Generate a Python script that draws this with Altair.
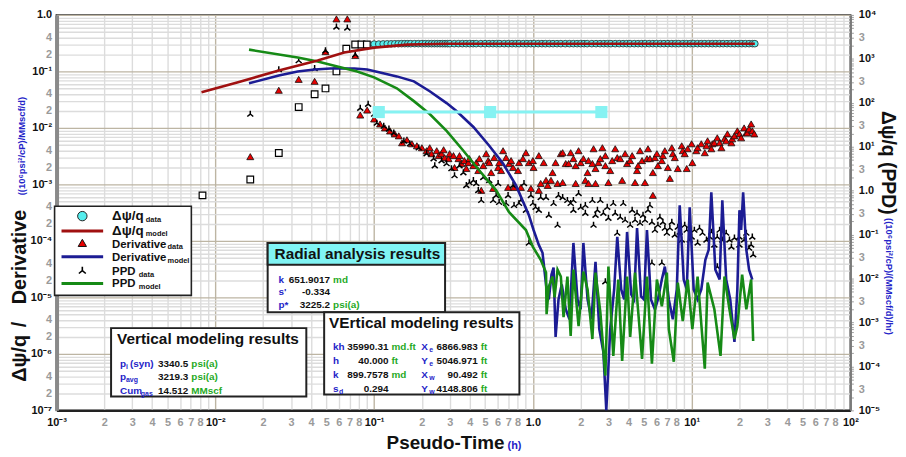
import altair as alt
import pandas as pd

FONT = "Liberation Sans"
BLUE_TXT = "#2424c8"
GREEN_TXT = "#1faa1f"

# ---------------- data: (pseudo-time h, value in left-axis units) ----------------
psi_early = [(0.0083, 0.00064), (0.0166, 0.00122), (0.0251, 0.0036), (0.0335, 0.0234),
             (0.0422, 0.0395), (0.0494, 0.050), (0.0579, 0.100), (0.0668, 0.253),
             (0.0760, 0.300), (0.0832, 0.300), (0.0900, 0.300)]

psi_data = [(0.100, 0.305), (0.107, 0.305), (0.114, 0.307), (0.121, 0.308), (0.128, 0.308), (0.135, 0.309),
            (0.142, 0.309), (0.149, 0.31), (0.156, 0.31), (0.163, 0.31), (0.170, 0.31), (0.180, 0.31),
            (0.190, 0.31), (0.200, 0.31), (0.210, 0.31), (0.220, 0.31), (0.230, 0.31), (0.240, 0.31),
            (0.25, 0.31), (0.26, 0.31), (0.27, 0.31), (0.28, 0.31), (0.29, 0.31), (0.30, 0.31),
            (0.32, 0.31), (0.34, 0.31), (0.36, 0.31), (0.38, 0.31), (0.40, 0.31), (0.42, 0.31),
            (0.44, 0.31), (0.47, 0.31), (0.50, 0.31), (0.53, 0.31), (0.56, 0.31), (0.59, 0.31),
            (0.62, 0.31), (0.66, 0.31), (0.70, 0.31), (0.74, 0.31), (0.78, 0.31), (0.82, 0.31),
            (0.87, 0.31), (0.92, 0.31), (0.97, 0.31), (1.02, 0.31), (1.08, 0.31), (1.14, 0.31),
            (1.20, 0.31), (1.27, 0.31), (1.34, 0.31), (1.42, 0.31), (1.50, 0.31), (1.60, 0.31),
            (1.70, 0.31), (1.80, 0.31), (1.90, 0.31), (2.00, 0.31), (2.10, 0.31), (2.20, 0.31),
            (2.35, 0.31), (2.50, 0.31), (2.65, 0.31), (2.80, 0.31), (2.95, 0.31), (3.10, 0.31),
            (3.30, 0.31), (3.50, 0.31), (3.70, 0.31), (3.90, 0.31), (4.10, 0.31), (4.35, 0.31),
            (4.60, 0.31), (4.85, 0.31), (5.10, 0.31), (5.40, 0.31), (5.70, 0.31), (6.00, 0.31),
            (6.35, 0.31), (6.70, 0.31), (7.10, 0.31), (7.50, 0.31), (7.90, 0.31), (8.30, 0.31),
            (8.80, 0.31), (9.30, 0.31), (9.80, 0.31), (10.3, 0.31), (10.9, 0.31), (11.5, 0.31),
            (12.1, 0.31), (12.8, 0.31), (13.5, 0.31), (14.2, 0.31), (15.0, 0.31), (15.8, 0.31),
            (16.7, 0.31), (17.6, 0.31), (18.6, 0.31), (19.6, 0.31), (20.7, 0.31), (21.8, 0.31),
            (23.0, 0.31), (24.2, 0.31), (25.0, 0.31)]

psi_model = [(0.00818, 0.0428), (0.0139, 0.0641), (0.0251, 0.104), (0.0441, 0.156), (0.0649, 0.216),
             (0.100, 0.264), (0.161, 0.298), (0.286, 0.310), (25.0, 0.310)]

deriv_data = [
    (0.0166, 0.0031), (0.0251, 0.0464), (0.0335, 0.0724), (0.0422, 0.0668), (0.0494, 0.224),
    (0.0579, 0.851), (0.0678, 0.851), (0.0761, 0.191), (0.0818, 0.0169), (0.0904, 0.0207),
    (0.100, 0.0144), (0.109, 0.01175), (0.117, 0.0100), (0.126, 0.00886), (0.135, 0.00785),
    (0.143, 0.00724), (0.150, 0.00546), (0.161, 0.00616), (0.173, 0.00524), (0.186, 0.00483),
    (0.200, 0.00446), (0.214, 0.00395), (0.224, 0.00446), (0.230, 0.0035), (0.248, 0.00395),
    (0.255, 0.00323), (0.266, 0.0035), (0.274, 0.00411), (0.278, 0.00298), (0.294, 0.00286),
    (0.299, 0.0035), (0.316, 0.00323), (0.321, 0.00199), (0.340, 0.00286), (0.345, 0.00323),
    (0.355, 0.00234), (0.370, 0.00264), (0.381, 0.00191), (0.392, 0.00243), (0.398, 0.00286),
    (0.422, 0.00215), (0.440, 0.00243), (0.453, 0.00176), (0.460, 0.00286), (0.473, 0.000785),
    (0.487, 0.00215), (0.508, 0.0035), (0.523, 0.00264), (0.531, 0.00243), (0.546, 0.00162),
    (0.562, 0.00085), (0.570, 0.00298), (0.604, 0.00199), (0.613, 0.00243), (0.631, 0.00176),
    (0.649, 0.00395), (0.678, 0.00298), (0.698, 0.000886), (0.708, 0.00234), (0.729, 0.00264),
    (0.750, 0.00199), (0.761, 0.000886), (0.806, 0.00176), (0.818, 0.00243), (0.841, 0.000886),
    (0.866, 0.00286), (0.904, 0.00364), (0.944, 0.00243), (0.972, 0.00085), (1.00, 0.00264),
    (1.01, 0.00199), (1.09, 0.00323), (1.09, 0.000785), (1.12, 0.00104), (1.17, 0.00243),
    (1.21, 0.00118), (1.24, 0.00096), (1.30, 0.00118), (1.33, 0.00162), (1.39, 0.00243),
    (1.43, 0.00104), (1.50, 0.0035), (1.54, 0.00108), (1.54, 0.00364), (1.61, 0.00234),
    (1.68, 0.00234), (1.73, 0.00364), (1.80, 0.00286), (1.86, 0.00104), (1.86, 0.00215),
    (1.94, 0.00395), (2.00, 0.00243), (2.08, 0.00286), (2.14, 0.00118), (2.21, 0.00162),
    (2.24, 0.00264), (2.24, 0.00104), (2.37, 0.00234), (2.41, 0.00428), (2.48, 0.00191),
    (2.48, 0.00104), (2.59, 0.00243), (2.66, 0.00286), (2.74, 0.00446), (2.86, 0.00323),
    (2.86, 0.00215), (2.99, 0.00108), (3.07, 0.00176), (3.16, 0.00264), (3.30, 0.00428),
    (3.40, 0.00298), (3.55, 0.00286), (3.65, 0.00118), (3.81, 0.0035), (3.92, 0.00234),
    (4.10, 0.00264), (4.22, 0.00323), (4.40, 0.00108), (4.53, 0.00176), (4.60, 0.00215),
    (4.73, 0.00395), (4.87, 0.00264), (5.08, 0.00108), (5.23, 0.00286), (5.31, 0.00428),
    (5.46, 0.00286), (5.70, 0.00162), (5.70, 0.000641), (5.87, 0.00298), (6.04, 0.0035),
    (6.13, 0.00215), (6.49, 0.00264), (6.59, 0.00323), (6.78, 0.00395), (7.08, 0.00199),
    (7.29, 0.00128), (7.50, 0.00446), (7.61, 0.0035), (7.83, 0.00298), (8.18, 0.00191),
    (8.66, 0.00483), (8.79, 0.00395), (9.04, 0.0035), (9.31, 0.00191), (9.44, 0.00428),
    (10.0, 0.00524), (10.1, 0.00243), (10.7, 0.00395), (10.9, 0.00446), (11.5, 0.00524),
    (12.1, 0.00364), (12.4, 0.00483), (12.6, 0.00591), (13.3, 0.00428), (13.5, 0.00524),
    (13.9, 0.00546), (14.5, 0.00668), (15.0, 0.00546), (15.4, 0.00446), (16.1, 0.00641),
    (16.5, 0.00591), (16.8, 0.00785), (17.8, 0.00546), (18.0, 0.00641), (18.6, 0.00724),
    (19.4, 0.00886), (20.0, 0.00785), (20.5, 0.00668), (21.4, 0.0100), (22.1, 0.00817),
    (22.4, 0.00817), (23.0, 0.0096), (23.7, 0.01175), (24.1, 0.00886), (24.8, 0.00785)]

ppd_data = [
    (0.0166, 0.0176), (0.0251, 0.108), (0.0335, 0.156), (0.0422, 0.113), (0.0494, 0.234),
    (0.0579, 0.616), (0.0678, 0.591), (0.0761, 0.199), (0.0818, 0.0224), (0.0917, 0.0264),
    (0.100, 0.0176), (0.104, 0.0122), (0.115, 0.0108), (0.124, 0.0096), (0.133, 0.00817),
    (0.154, 0.00591), (0.168, 0.00524), (0.191, 0.00446), (0.214, 0.0035), (0.237, 0.00286),
    (0.241, 0.00215), (0.266, 0.00264), (0.286, 0.00234), (0.307, 0.00191), (0.321, 0.00144),
    (0.345, 0.00215), (0.365, 0.00162), (0.381, 0.00096), (0.398, 0.00108), (0.422, 0.00118),
    (0.440, 0.00104), (0.453, 0.000785), (0.473, 0.000524), (0.487, 0.00133), (0.531, 0.00118),
    (0.562, 0.000524), (0.587, 0.000641), (0.604, 0.00104), (0.613, 0.000483), (0.678, 0.000464),
    (0.698, 0.000641), (0.750, 0.00096), (0.761, 0.000428), (0.818, 0.000464), (0.841, 0.000524),
    (0.879, 0.00104), (0.904, 0.00035), (0.944, 0.000092), (0.972, 0.000641),
    (1.00, 0.000464), (1.04, 0.000395), (1.09, 0.00035), (1.12, 0.000591), (1.21, 0.000591),
    (1.26, 0.000286), (1.35, 0.000464), (1.43, 0.000191), (1.45, 0.000641), (1.54, 0.000591),
    (1.65, 0.000524), (1.73, 0.000464), (1.80, 0.00035), (1.80, 0.000524), (1.94, 0.000695),
    (2.00, 0.000395), (2.14, 0.00031), (2.14, 0.000428), (2.37, 0.000524), (2.41, 0.000191),
    (2.48, 0.000286), (2.55, 0.00035), (2.66, 0.000524), (2.78, 0.00031), (2.86, 0.000019),
    (2.94, 0.000395), (2.99, 0.000253), (3.21, 0.000464), (3.30, 0.00031), (3.40, 0.000138),
    (3.55, 0.000264), (3.71, 0.000464), (3.81, 0.000234), (4.10, 0.000191), (4.22, 0.00035),
    (4.40, 0.000234), (4.53, 0.00031), (4.73, 0.000207), (4.94, 0.000286), (5.08, 0.000234),
    (5.31, 0.00035), (5.46, 0.000428), (5.62, 0.000215), (5.62, 0.000041), (5.87, 0.000156),
    (6.13, 0.000191), (6.31, 0.000264), (6.49, 0.000041), (6.59, 0.000215), (6.78, 0.000169),
    (6.98, 0.000138), (7.29, 0.000169), (7.50, 0.000215), (7.83, 0.000128), (8.18, 0.000176),
    (8.41, 0.000144), (8.66, 0.000104), (9.04, 0.000191), (9.31, 0.000156), (9.72, 0.000104),
    (10.0, 0.000118), (10.4, 0.000156), (10.9, 0.000092), (11.2, 0.000169), (11.7, 0.000138),
    (12.4, 0.000104), (13.0, 0.000118), (13.3, 0.000144), (13.9, 0.000085), (14.5, 0.000118),
    (14.5, 0.000035), (15.0, 0.000156), (15.6, 0.000104), (16.5, 0.000138), (17.3, 0.000104),
    (17.8, 0.0000785), (18.6, 0.000113), (20.0, 0.000085), (20.0, 0.000118), (21.4, 0.000104),
    (22.1, 0.000138), (23.0, 0.000075), (23.7, 0.000085), (24.1, 0.000118), (24.4, 0.000057)]

deriv_model = [
    (0.0163, 0.0616), (0.0251, 0.085), (0.0330, 0.100), (0.0422, 0.108), (0.0531, 0.113),
    (0.0750, 0.113), (0.0904, 0.108), (0.109, 0.096), (0.139, 0.0817), (0.178, 0.0668),
    (0.224, 0.0446), (0.286, 0.0275), (0.330, 0.0199), (0.422, 0.0104), (0.531, 0.00483),
    (0.649, 0.00234), (0.783, 0.00096), (0.944, 0.000286), (1.01, 0.000156), (1.09, 0.000085),
    (1.15, 0.0000616),
    (1.22, 1.38e-5), (1.26, 9.2e-6), (1.31, 2.53e-5), (1.35, 3.36e-5), (1.39, 1.99e-6),
    (1.45, 9.2e-6), (1.52, 1.69e-5), (1.61, 6.16e-6), (1.70, 4.11e-6), (1.80, 9.2e-5),
    (1.91, 9.2e-6), (2.00, 6.16e-6), (2.08, 9.2e-5), (2.21, 9.2e-6), (2.34, 4.11e-6),
    (2.48, 4.28e-5), (2.62, 2.75e-6), (2.78, 1.08e-6), (2.90, 1.0e-7), (3.07, 2.75e-6),
    (3.25, 1.38e-5), (3.40, 1.18e-4), (3.60, 1.38e-5), (3.76, 9.2e-6), (3.92, 1.44e-4),
    (4.16, 1.13e-5), (4.34, 9.2e-6), (4.53, 1.69e-4), (4.80, 1.04e-5), (5.01, 9.2e-6),
    (5.23, 1.56e-4), (5.54, 9.2e-6), (5.87, 6.16e-6), (6.13, 9.2e-6), (6.49, 2.07e-5),
    (6.78, 3.5e-5), (7.18, 9.2e-6), (7.61, 4.11e-6), (8.06, 1.38e-5), (8.41, 4.28e-4),
    (8.91, 2.07e-5), (9.31, 1.38e-5), (9.72, 3.95e-4), (10.3, 1.38e-5), (10.9, 9.2e-6),
    (11.5, 1.38e-5), (12.2, 4.64e-5), (12.8, 6.95e-5), (13.3, 7.24e-4), (14.1, 3.1e-5),
    (15.0, 2.07e-5), (15.6, 5.24e-4), (16.5, 2.07e-5), (17.5, 9.2e-6), (18.6, 1.63e-6),
    (19.4, 1.38e-5), (20.0, 3.5e-4), (20.5, 1.56e-4), (21.1, 7.24e-4), (22.1, 6.95e-5),
    (23.0, 3.1e-5), (24.1, 2.07e-5)]

ppd_model = [
    (0.0163, 0.243), (0.0330, 0.176), (0.0441, 0.150), (0.0587, 0.122), (0.0783, 0.100),
    (0.100, 0.0785), (0.139, 0.0503), (0.178, 0.0298), (0.224, 0.0176), (0.286, 0.00886),
    (0.365, 0.00395), (0.460, 0.00176), (0.587, 0.000785), (0.708, 0.000323), (0.904, 0.000156),
    (1.00, 0.0000785), (1.12, 0.0000464), (1.21, 0.0000275),
    (1.22, 5.03e-6), (1.26, 1.56e-5), (1.33, 2.34e-5), (1.37, 1.0e-5), (1.43, 3.1e-5),
    (1.50, 2.34e-5), (1.56, 4.46e-6), (1.65, 2.34e-5), (1.73, 2.07e-6), (1.80, 3.1e-5),
    (1.94, 3.1e-6), (2.08, 2.86e-5), (2.21, 1.38e-5), (2.37, 1.83e-6), (2.48, 2.75e-5),
    (2.66, 5.46e-6), (2.86, 4.11e-7), (2.99, 3.5e-5), (3.21, 9.2e-7), (3.45, 2.07e-5),
    (3.65, 7.53e-7), (3.92, 2.34e-5), (4.10, 1.99e-6), (4.40, 2.75e-5), (4.87, 8.17e-7),
    (5.23, 2.34e-5), (5.62, 6.68e-7), (6.04, 2.07e-5), (6.49, 6.95e-6), (6.98, 2.75e-5),
    (7.18, 2.75e-6), (7.72, 7.24e-7), (8.18, 1.83e-5), (8.79, 3.79e-6), (9.44, 2.07e-5),
    (10.1, 2.75e-6), (10.9, 2.34e-5), (11.4, 4.64e-6), (12.1, 5.46e-7), (12.6, 1.83e-5),
    (13.9, 6.16e-6), (15.2, 9.2e-7), (16.1, 2.34e-5), (17.3, 6.16e-6), (18.6, 1.83e-6),
    (19.4, 3.1e-6), (20.8, 2.53e-5), (22.1, 6.16e-6), (23.7, 2.07e-5), (24.4, 1.69e-6)]

radial_line = [(0.107, 0.0191), (0.538, 0.0191), (2.70, 0.0191)]

# right-axis range
right_range = [1e-5, 1e4]

# ---------------- axes ----------------
x_ticks = [m * 10.0 ** e for e in range(-3, 2) for m in range(1, 10)] + [100.0]
y_ticks = [m * 10.0 ** e for e in range(-7, 0) for m in range(1, 10)] + [1.0]
r_ticks = [m * 10.0 ** e for e in range(-5, 4) for m in range(1, 10)] + [1e4]

SUP = {"-": "\u207b", "0": "\u2070", "1": "\u00b9", "2": "\u00b2", "3": "\u00b3", "4": "\u2074",
       "5": "\u2075", "6": "\u2076", "7": "\u2077", "8": "\u2078", "9": "\u2079"}
E = "floor(log(datum.value)/LN10+1e-6)"
M = f"round(datum.value/pow(10,{E}))"


def decade_expr(exps):
    s = "''"
    for e in exps:
        lab = "1.0" if e == 0 else "10" + "".join(SUP[c] for c in str(e))
        s = f"({E}=={e}?'{lab}':{s})"
    return s


lab_color = {"condition": {"test": f"{M}==1", "value": "#111111"}, "value": "#9a9a9a"}
grid_color = {"condition": {"test": f"{M}==1", "value": "#bdb5a3"}, "value": "#dcdcdc"}
common = dict(labelFont=FONT, labelFontSize=11, labelFontWeight="bold", labelColor=lab_color,
              labelOverlap=False, labelFlush=False, labelBound=False, title=None)

x_axis = alt.Axis(values=x_ticks, labelExpr=f"{M}==1 ? {decade_expr(range(-3, 3))} : ({M}<=8 ? ''+{M} : '')",
                  grid=True, gridColor=grid_color, gridWidth=1.4, ticks=False, labelPadding=6,
                  domainColor="#222222", domainWidth=2.5, **common)
y_axis = alt.Axis(values=y_ticks,
                  labelExpr=f"{M}==1 ? {decade_expr(range(-7, 1))} : (({M}==2||{M}==4) ? ''+{M} : '')",
                  grid=True, gridColor=grid_color, gridWidth=1.4, ticks=False, labelPadding=5,
                  domainColor="#8a8a8a", domainWidth=4, **common)
r_axis = alt.Axis(values=r_ticks, orient="right",
                  labelExpr=f"{M}==1 ? {decade_expr(range(-5, 5))} : ({M}==3 ? '3' : '')",
                  grid=False, ticks=True, tickSize=3, tickColor="#a0a0a0", labelPadding=5,
                  domainColor="#7a7a7a", domainWidth=2, **common)

X = alt.X("t:Q", scale=alt.Scale(type="log", domain=[1e-3, 1e2], nice=False), axis=x_axis)
Y = alt.Y("v:Q", scale=alt.Scale(type="log", domain=[1e-7, 1], nice=False), axis=y_axis)


def df(pairs):
    return pd.DataFrame(pairs, columns=["t", "v"])


STAR = "M0,-1L0,0L-0.9,0.75M0,0L0.9,0.75"

layers = [
    alt.Chart(df(deriv_data)).mark_point(shape="triangle-up", filled=True, fill="#e80000", stroke="#111",
                                         strokeWidth=0.8, size=50, opacity=1).encode(x=X, y=Y),
    alt.Chart(df(ppd_data)).mark_point(shape=STAR, filled=False, stroke="#000", strokeWidth=1.5,
                                       size=45, opacity=1).encode(x=X, y=Y),
    alt.Chart(df(psi_early)).mark_point(shape="square", filled=True, fill="white", stroke="#000",
                                        strokeWidth=1.2, size=45, opacity=1).encode(x=X, y=Y),
    alt.Chart(df(psi_data)).mark_point(shape="circle", filled=True, fill="#55eeee", stroke="#222",
                                       strokeWidth=0.8, size=45, opacity=1).encode(x=X, y=Y),
    alt.Chart(df(deriv_model)).mark_line(color="#1c1c94", strokeWidth=2.6, clip=True).encode(x=X, y=Y),
    alt.Chart(df(ppd_model)).mark_line(color="#168a16", strokeWidth=2.6, clip=True).encode(x=X, y=Y),
    alt.Chart(df(psi_model)).mark_line(color="#a01010", strokeWidth=2.6, clip=True).encode(x=X, y=Y),
    alt.Chart(df(radial_line)).mark_line(color="#86f2f2", strokeWidth=3).encode(x=X, y=Y),
    alt.Chart(df(radial_line)).mark_point(shape="square", filled=True, color="#86f2f2", size=150,
                                          opacity=1).encode(x=X, y=Y),
]

ONE = alt.Data(values=[{"a": 1}])


def txt(x, y, s, size=10, color="#111", align="left", baseline="middle", angle=0, weight="bold"):
    return alt.Chart(ONE).mark_text(text=s, font=FONT, fontSize=size, fontWeight=weight, color=color,
                                    align=align, baseline=baseline, angle=angle).encode(
        x=alt.value(x), y=alt.value(y))


def rect(x0, y0, x1, y1, fill="white", stroke="#222", sw=1.8):
    return alt.Chart(ONE).mark_rect(fill=fill, stroke=stroke, strokeWidth=sw).encode(
        x=alt.value(x0), x2=alt.value(x1), y=alt.value(y0), y2=alt.value(y1))


def seg(x0, x1, y, color):
    return alt.Chart(ONE).mark_rule(color=color, strokeWidth=3).encode(
        x=alt.value(x0), x2=alt.value(x1), y=alt.value(y))


def sym(x, y, **kw):
    return alt.Chart(ONE).mark_point(opacity=1, **kw).encode(x=alt.value(x), y=alt.value(y))


ann = []
# legend
ann.append(rect(-2, 193, 136, 283, sw=1.6))
ann.append(sym(26, 203, shape="circle", filled=True, fill="#55eeee", stroke="#222", strokeWidth=1, size=90))
ann.append(seg(5, 47, 218, "#a01010"))
ann.append(sym(26, 230, shape="triangle-up", filled=True, fill="#e80000", stroke="#111", strokeWidth=1, size=70))
ann.append(seg(5, 47, 244, "#1c1c94"))
ann.append(sym(26, 258, shape=STAR, filled=False, stroke="#000", strokeWidth=1.6, size=60))
ann.append(seg(5, 47, 271, "#168a16"))
for yy, main, sub, sz, subx, dm, ds in [(203, "\u0394\u03c8/q", "data", 13.5, 90, 4, 6),
                                         (218, "\u0394\u03c8/q", "model", 13.5, 90, 4, 5),
                                         (230, "Derivative", "data", 11.5, 112, 5, 6),
                                         (244, "Derivative", "model", 11.5, 112, 4, 6),
                                         (258, "PPD", "data", 11.5, 83, 4, 6),
                                         (271, "PPD", "model", 11.5, 83, 4, 6)]:
    ann.append(txt(56, yy + dm, main, size=sz, baseline="alphabetic"))
    ann.append(txt(subx, yy + ds, sub, size=7.5, baseline="alphabetic"))

# radial analysis box
ann.append(rect(213, 230, 392, 300, sw=2))
ann.append(rect(213, 230, 392, 252, fill="#80f4f4", sw=2))
ann.append(txt(220, 241, "Radial analysis results", size=15.5))
for yy, lab, val, unit in [(267, "k", "651.9017", "md"), (280, "s'", "-0.334", ""), (293, "p*", "3225.2", "psi(a)")]:
    ann.append(txt(224, yy, lab, color=BLUE_TXT))
    ann.append(txt(276, yy, val, align="right"))
    if unit:
        ann.append(txt(279, yy, unit, color=GREEN_TXT))

# vertical modeling results (left)
ann.append(rect(55, 316, 252, 385, sw=2))
ann.append(txt(61, 327, "Vertical modeling results", size=15.5))
for yy, lab, sub, subx, rest, val, unit in [(352, "p", "i", 70, "(syn)", "3340.5", "psi(a)"),
                                            (365, "p", "avg", 70, "", "3219.3", "psi(a)"),
                                            (379, "Cum", "gas", 85, "", "14.512", "MMscf")]:
    ann.append(txt(64, yy, lab, color=BLUE_TXT))
    ann.append(txt(subx, yy + 3, sub, size=7, color=BLUE_TXT))
    if rest:
        ann.append(txt(74, yy, rest, color=BLUE_TXT))
    ann.append(txt(133, yy, val, align="right"))
    ann.append(txt(136, yy, unit, color=GREEN_TXT))

# VErtical modeling results (right)
ann.append(rect(270, 300, 467, 383, sw=2))
ann.append(txt(275, 311, "VErtical modeling results", size=15.5))
rows = [(335, "kh", "", "35990.31", "md.ft", "X", "e", "6866.983"),
        (349, "h", "", "40.000", "ft", "Y", "e", "5046.971"),
        (363, "k", "", "899.7578", "md", "X", "w", "90.492"),
        (377, "s", "d", "0.294", "", "Y", "w", "4148.806")]
for yy, l1, s1, v1, u1, l2, s2, v2 in rows:
    ann.append(txt(279, yy, l1, color=BLUE_TXT))
    if s1:
        ann.append(txt(285, yy + 3, s1, size=7, color=BLUE_TXT))
    ann.append(txt(335, yy, v1, align="right"))
    if u1:
        ann.append(txt(338, yy, u1, color=GREEN_TXT))
    ann.append(txt(368, yy, l2, color=BLUE_TXT))
    ann.append(txt(376, yy + 3, s2, size=7, color=BLUE_TXT))
    ann.append(txt(425, yy, v2, align="right"))
    ann.append(txt(428, yy, "ft", color=GREEN_TXT))

# axis titles
ann.append(txt(-31, 370, "\u0394\u03c8/q", size=20, angle=270, baseline="alphabetic"))
ann.append(txt(-31, 315, "/", size=20, angle=270, baseline="alphabetic"))
ann.append(txt(-31, 292, "Derivative", size=20, angle=270, baseline="alphabetic"))
ann.append(txt(-32, 182, "((10\u2076psi\u00b2/cP)/MMscf/d)", size=9.5, color=BLUE_TXT, angle=270,
               baseline="alphabetic"))
ann.append(txt(839, 97, "\u0394\u03c8/q (PPD)", size=19.5, angle=90))
ann.append(txt(840, 205, "((10\u2076psi\u00b2/cP)/(MMscf/d)/hr)", size=9.5, color=BLUE_TXT, angle=90))
ann.append(txt(333, 438, "Pseudo-Time", size=19, baseline="alphabetic"))
ann.append(txt(455, 438, "(h)", size=11, color=BLUE_TXT, baseline="alphabetic"))

right = alt.Chart(pd.DataFrame({"t": [1.0, 1.0], "r": right_range})).mark_point(opacity=0).encode(
    x=X, y=alt.Y("r:Q", scale=alt.Scale(type="log", domain=right_range, nice=False), axis=r_axis))

left = alt.layer(*layers, *ann)
chart = alt.layer(left, right).resolve_scale(y="independent").properties(
    width=801, height=399,
    padding={"left": 49, "top": 5, "right": 48, "bottom": 40},
    autosize=alt.AutoSizeParams(type="none"),
    background="white",
).configure_view(stroke="#555555", strokeWidth=2)

chart.save("out.html", embed_options={"renderer": "svg", "actions": False})
